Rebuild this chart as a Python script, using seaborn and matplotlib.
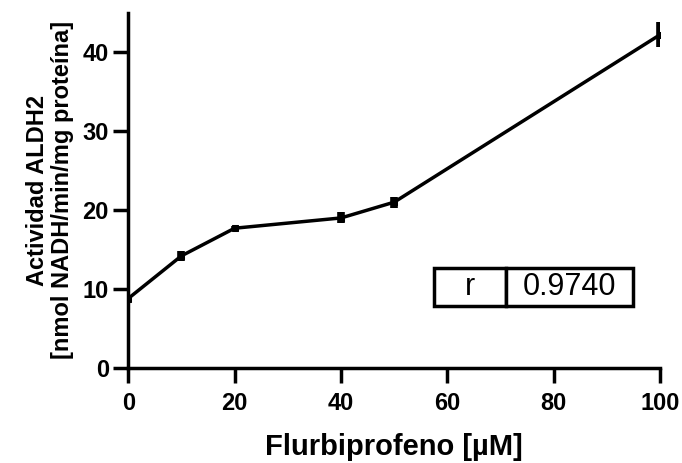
import matplotlib
matplotlib.use("Agg")
import matplotlib.pyplot as plt
import seaborn as sns
import pandas as pd

# data
conc = [0, 10, 20, 40, 50, 100]
actividad = [8.8, 14.2, 17.7, 19.0, 21.0, 42.2]
err = [0.3, 0.6, 0.3, 0.7, 0.7, 1.6]
r_value = "0.9740"

df = pd.DataFrame({"conc": conc, "act": actividad, "err": err})

sns.set_style("ticks")
plt.rcParams['font.family'] = ['Liberation Sans', 'DejaVu Sans']
plt.rcParams.update({"text.color": "black", "axes.labelcolor": "black",
                     "xtick.color": "black", "ytick.color": "black",
                     "axes.edgecolor": "black"})

fig = plt.figure(figsize=(6.82, 4.63), dpi=100)
ax = fig.add_axes([0.188, 0.205, 0.78, 0.768])

sns.lineplot(data=df, x="conc", y="act", ax=ax, color="black", lw=2.5,
             marker="s", markersize=5, markeredgecolor="black")
ax.errorbar(df["conc"], df["act"], yerr=df["err"], fmt="none",
            ecolor="black", elinewidth=5.5, capsize=0)

ax.set_xlim(0, 100)
ax.set_ylim(0, 45)
ax.set_xticks([0, 20, 40, 60, 80, 100])
ax.set_yticks([0, 10, 20, 30, 40])
ax.spines["top"].set_visible(False)
ax.spines["right"].set_visible(False)
ax.spines["left"].set_linewidth(2.5)
ax.spines["bottom"].set_linewidth(2.5)
ax.spines["left"].set_bounds(0, 45)
ax.tick_params(axis="x", width=2.5, length=10.5, labelsize=17, pad=7)
ax.tick_params(axis="y", width=2.5, length=10.5, labelsize=17, pad=3.5)
for lab in ax.get_xticklabels() + ax.get_yticklabels():
    lab.set_fontweight("bold")
for sp in ax.spines.values():
    sp.set_clip_on(False)

ax.set_xlabel("Flurbiprofeno [µM]", fontsize=21, fontweight="bold", labelpad=13)
ax.set_ylabel("Actividad ALDH2\n[nmol NADH/min/mg proteína]", fontsize=17,
              fontweight="bold", labelpad=6, linespacing=1.1)

tbl = ax.table(cellText=[["r", r_value]], colWidths=[0.36, 0.64],
               cellLoc="center", bbox=[0.575, 0.174, 0.374, 0.107])
tbl.auto_set_font_size(False)
for (i, j), cell in tbl.get_celld().items():
    cell.set_linewidth(2.5)
    cell.get_text().set_fontsize(22)

fig.savefig("out.png", dpi=100)
